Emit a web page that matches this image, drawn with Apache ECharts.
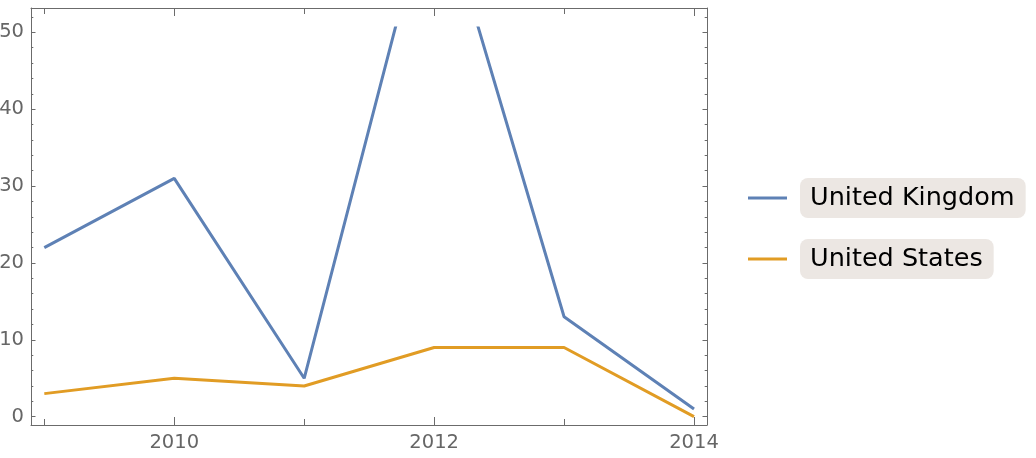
<!DOCTYPE html>
<html>
<head>
<meta charset="utf-8">
<script src="https://cdn.jsdelivr.net/npm/echarts@6/dist/echarts.min.js"></script>
<style>
html,body{margin:0;padding:0;background:#fff;}
#c{width:1036px;height:458px;}
</style>
</head>
<body>
<div id="c"></div>
<script>
// Data
const years = [2009, 2010, 2011, 2012, 2013, 2014];
const ukValues = [22, 31, 5, 70, 13, 1];
const usValues = [3, 5, 4, 9, 9, 0];
const seriesNames = ['United Kingdom', 'United States'];
const xMajorTicks = [2010, 2012, 2014];
const xMinorTicks = [2009, 2011, 2013];
const yMajorTicks = [0, 10, 20, 30, 40, 50];
const yMinorTicks = [2, 4, 6, 8, 12, 14, 16, 18, 22, 24, 26, 28, 32, 34, 36, 38, 42, 44, 46, 48, 52];

const XMIN = 2008.8976, XMAX = 2014.1;
const YMIN = -1.08, YMAX = 53.16, YCLIP = 50.56;
const AXC = '#6b6b6b';
const FONT = 'DejaVu Sans';

const toPairs = (xs, ys) => xs.map((x, i) => [x, ys[i]]);

function xAx(pos, ticks, len, showLine, showLabel) {
  return {
    type: 'value', gridIndex: 0, position: pos, min: XMIN, max: XMAX,
    axisLine: {show: showLine, onZero: false, lineStyle: {color: AXC, width: 1}},
    axisTick: {show: true, inside: true, length: len, customValues: ticks, lineStyle: {color: AXC, width: 1}},
    axisLabel: {show: showLabel, customValues: ticks, formatter: v => String(v), fontFamily: FONT, fontSize: 19.5, color: '#666', margin: 8},
    splitLine: {show: false}
  };
}
function yAx(pos, ticks, len, showLine, showLabel) {
  return {
    type: 'value', gridIndex: 0, position: pos, min: YMIN, max: YMAX,
    axisLine: {show: showLine, onZero: false, lineStyle: {color: AXC, width: 1}},
    axisTick: {show: true, inside: true, length: len, customValues: ticks, lineStyle: {color: AXC, width: 1}},
    axisLabel: {show: showLabel, customValues: ticks, formatter: v => String(v), fontFamily: FONT, fontSize: 19.5, color: '#666', margin: 7},
    splitLine: {show: false}
  };
}

const chart = echarts.init(document.getElementById('c'), null, {renderer: 'canvas'});
chart.setOption({
  animation: false,
  backgroundColor: '#fff',
  grid: [
    {left: 31, right: 329, top: 8, bottom: 33, containLabel: false, outerBoundsMode: 'none'},
    {left: 31, right: 329, top: 28, bottom: 33, containLabel: false, outerBoundsMode: 'none'}
  ],
  xAxis: [
    xAx('bottom', xMajorTicks, 8, true, true),
    xAx('bottom', xMinorTicks, 6, false, false),
    xAx('top', xMajorTicks, 8, true, false),
    xAx('top', xMinorTicks, 6, false, false),
    {type: 'value', gridIndex: 1, min: XMIN, max: XMAX, show: false}
  ],
  yAxis: [
    yAx('left', yMajorTicks, 4.5, true, true),
    yAx('left', yMinorTicks, 2.3, false, false),
    yAx('right', yMajorTicks, 4.5, true, false),
    yAx('right', yMinorTicks, 2.3, false, false),
    {type: 'value', gridIndex: 1, min: YMIN, max: YCLIP, show: false}
  ],
  legend: {
    orient: 'vertical',
    left: 748,
    top: 178,
    padding: 0,
    itemWidth: 39,
    itemHeight: 3,
    itemGap: 21,
    icon: 'rect',
    data: seriesNames,
    formatter: n => '{g|}{t|' + n + '}',
    textStyle: {
      rich: {
        g: {width: 8},
        t: {fontFamily: FONT, fontSize: 25.5, color: '#000', backgroundColor: '#ECE7E3', borderRadius: 8, padding: [6, 11, 6, 10], height: 28, lineHeight: 28}
      }
    }
  },
  series: [
    {name: seriesNames[0], type: 'line', xAxisIndex: 4, yAxisIndex: 4, data: toPairs(years, ukValues),
     symbol: 'none', clip: true, lineStyle: {color: '#5E81B5', width: 3}, itemStyle: {color: '#5E81B5'}},
    {name: seriesNames[1], type: 'line', xAxisIndex: 4, yAxisIndex: 4, data: toPairs(years, usValues),
     symbol: 'none', clip: true, lineStyle: {color: '#E19C24', width: 3}, itemStyle: {color: '#E19C24'}}
  ]
});
</script>
</body>
</html>
